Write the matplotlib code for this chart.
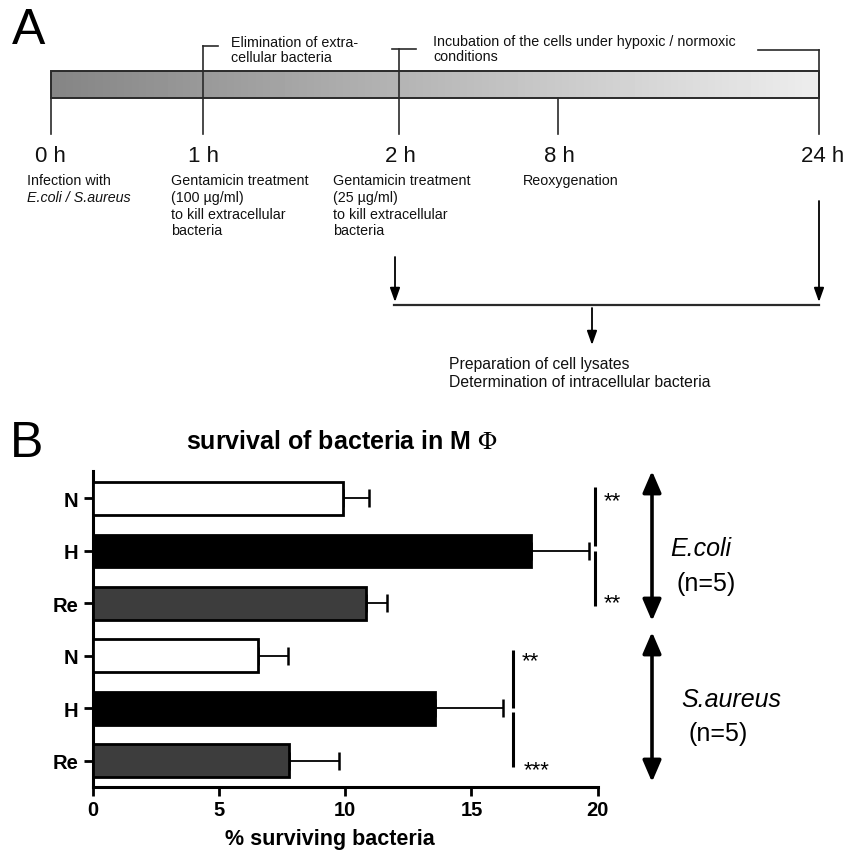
import numpy as np
import matplotlib
matplotlib.use("Agg")
import matplotlib.pyplot as plt

plt.rcParams['font.family'] = ['Liberation Sans', 'DejaVu Sans']
plt.rcParams['mathtext.fontset'] = 'stix'

# ---------------- data (panel B) ----------------
categories = ["N", "H", "Re", "N", "H", "Re"]
values = [9.90, 17.35, 10.82, 6.56, 13.56, 7.79]
errors = [1.05, 2.30, 0.85, 1.19, 2.70, 1.96]
conditions = ["N", "H", "Re", "N", "H", "Re"]
groups = ["E.coli", "S.aureus"]
group_n = ["(n=5)", "(n=5)"]
xticks = [0, 5, 10, 15, 20]
sig_labels = ["**", "**", "**", "***"]

# ---------------- data (panel A timeline) ----------------
time_labels = ["0 h", "1 h", "2 h", "8 h", "24 h"]

W, H = 846, 853
fig = plt.figure(figsize=(W / 100, H / 100), dpi=100)

# overlay axes in pixel coordinates
ov = fig.add_axes([0, 0, 1, 1])
ov.set_xlim(0, W)
ov.set_ylim(H, 0)
ov.axis('off')

lc = '#2a2a2a'
# gradient bar
grad = np.linspace(0.52, 0.93, 256).reshape(1, -1)
ov.imshow(grad, cmap='gray', vmin=0, vmax=1, extent=(51, 819, 99, 72),
          aspect='auto', zorder=1, interpolation='bilinear')
ov.add_patch(plt.Rectangle((51, 72), 768, 27, fill=False, ec=lc, lw=1.4, zorder=2))
ov.set_xlim(0, W)
ov.set_ylim(H, 0)

# timeline ticks / brackets
tick_x = [51, 203, 399, 558, 819]
tick_top = [99, 47, 50, 99, 51]
for x, t in zip(tick_x, tick_top):
    ov.plot([x, x], [t, 135], color=lc, lw=1.2, zorder=3)
ov.plot([203, 218], [47, 47], color=lc, lw=1.2, zorder=3)
ov.plot([392, 416], [50, 50], color=lc, lw=1.2, zorder=3)
ov.plot([758, 819], [51, 51], color=lc, lw=1.2, zorder=3)

label_x = [50, 204, 400, 559, 823]
for x, s in zip(label_x, time_labels):
    ov.text(x, 162, s, fontsize=16, ha='center', va='baseline', color='#111111')

ov.text(12, 44, "A", fontsize=36, ha='left', va='baseline')
ov.text(10, 457, "B", fontsize=36, ha='left', va='baseline')

fs = 10.3
tc = '#111111'
ov.text(231, 47, "Elimination of extra-", fontsize=fs, va='baseline', color=tc)
ov.text(231, 62, "cellular bacteria", fontsize=fs, va='baseline', color=tc)
ov.text(433, 46, "Incubation of the cells under hypoxic / normoxic", fontsize=fs, va='baseline', color=tc)
ov.text(433, 61, "conditions", fontsize=fs, va='baseline', color=tc)

base = [185, 202, 219, 235]
ov.text(27, base[0], "Infection with", fontsize=fs, va='baseline', color=tc)
ov.text(27, base[1], "E.coli / S.aureus", fontsize=fs, va='baseline', style='italic', color=tc)
col2 = ["Gentamicin treatment", "(100 µg/ml)", "to kill extracellular", "bacteria"]
col3 = ["Gentamicin treatment", "(25 µg/ml)", "to kill extracellular", "bacteria"]
for b, s in zip(base, col2):
    ov.text(171, b, s, fontsize=fs, va='baseline', color=tc)
for b, s in zip(base, col3):
    ov.text(333, b, s, fontsize=fs, va='baseline', color=tc)
ov.text(523, base[0], "Reoxygenation", fontsize=fs, va='baseline', color=tc)

# arrows to lysate preparation
ap = dict(arrowstyle='-|>,head_length=0.7,head_width=0.25', color='black', lw=1.3,
          shrinkA=0, shrinkB=0, mutation_scale=12)
ov.annotate('', xy=(395, 303), xytext=(395, 258), arrowprops=ap)
ov.annotate('', xy=(819, 303), xytext=(819, 202), arrowprops=ap)
ov.plot([394, 819], [306, 306], color=lc, lw=1.6)
ov.annotate('', xy=(592, 346), xytext=(592, 309), arrowprops=ap)
ov.text(449, 369, "Preparation of cell lysates", fontsize=11.3, va='baseline', color=tc)
ov.text(449, 387, "Determination of intracellular bacteria", fontsize=11.3, va='baseline', color=tc)

# title of panel B
ov.text(342, 449, r"survival of bacteria in M $\Phi$", fontsize=18, fontweight='bold',
        ha='center', va='baseline')

# group arrows and labels
gap = dict(arrowstyle='<|-|>,head_length=0.65,head_width=0.28', color='black', lw=2.6,
           shrinkA=0, shrinkB=0, mutation_scale=20)
ov.annotate('', xy=(652, 472), xytext=(652, 622), arrowprops=gap)
ov.annotate('', xy=(652, 633), xytext=(652, 783), arrowprops=gap)
gfs = 18
ov.text(670, 549, groups[0], fontsize=gfs, style='italic', va='center', ha='left')
ov.text(677, 584, group_n[0], fontsize=gfs, va='center', ha='left')
ov.text(681, 700, groups[1], fontsize=gfs, style='italic', va='center', ha='left')
ov.text(689, 734, group_n[1], fontsize=gfs, va='center', ha='left')

# ---------------- panel B axes ----------------
left, right, top, bottom = 92.7, 597.7, 472, 788
ax = fig.add_axes([left / W, (H - bottom) / H, (right - left) / W, (bottom - top) / H])
ax.patch.set_alpha(0)
cmap = {"N": "white", "H": "black", "Re": "#3d3d3d"}
y = np.arange(len(values))
ax.barh(y, values, height=0.62, color=[cmap[c] for c in conditions],
        edgecolor='black', linewidth=2.0, zorder=3)
ax.errorbar(values, y, xerr=[np.zeros(len(errors)), errors], fmt='none',
            ecolor='black', elinewidth=1.3, capsize=6.5, capthick=1.8, zorder=2)
ax.set_xlim(0, 20)
ax.set_ylim(5.5, -0.52)
ax.set_yticks(y)
ax.set_yticklabels(categories, fontweight='bold', fontsize=14.5)
ax.set_xticks(xticks)
ax.set_xticklabels([str(t) for t in xticks], fontweight='bold', fontsize=14.5)
for s in ['top', 'right']:
    ax.spines[s].set_visible(False)
for s in ['left', 'bottom']:
    ax.spines[s].set_linewidth(2.2)
ax.tick_params(axis='both', length=6.5, width=2.0, pad=4)
ax.tick_params(axis='x', pad=3)
ax.set_xlabel("% surviving bacteria", fontweight='bold', fontsize=15.5)
ax.xaxis.set_label_coords((330 - left) / (right - left), (bottom - 840) / (bottom - top))
ax.xaxis.label.set_verticalalignment('center')

# significance bars
sig_x = [19.9, 16.65]
ax.plot([sig_x[0]] * 2, [-0.21, 0.91], color='black', lw=2.2, clip_on=False, solid_capstyle='butt')
ax.plot([sig_x[0]] * 2, [1.0, 2.05], color='black', lw=2.2, clip_on=False, solid_capstyle='butt')
ax.plot([sig_x[1]] * 2, [2.89, 3.99], color='black', lw=2.2, clip_on=False, solid_capstyle='butt')
ax.plot([sig_x[1]] * 2, [4.07, 5.11], color='black', lw=2.2, clip_on=False, solid_capstyle='butt')
star_pos = [(20.25, 0.05), (20.25, 1.99), (17.0, 3.09), (17.05, 5.17)]
for (sx, sy), s in zip(star_pos, sig_labels):
    ax.text(sx, sy, s, fontsize=16, ha='left', va='center', clip_on=False)

fig.savefig("out.png", dpi=100)
